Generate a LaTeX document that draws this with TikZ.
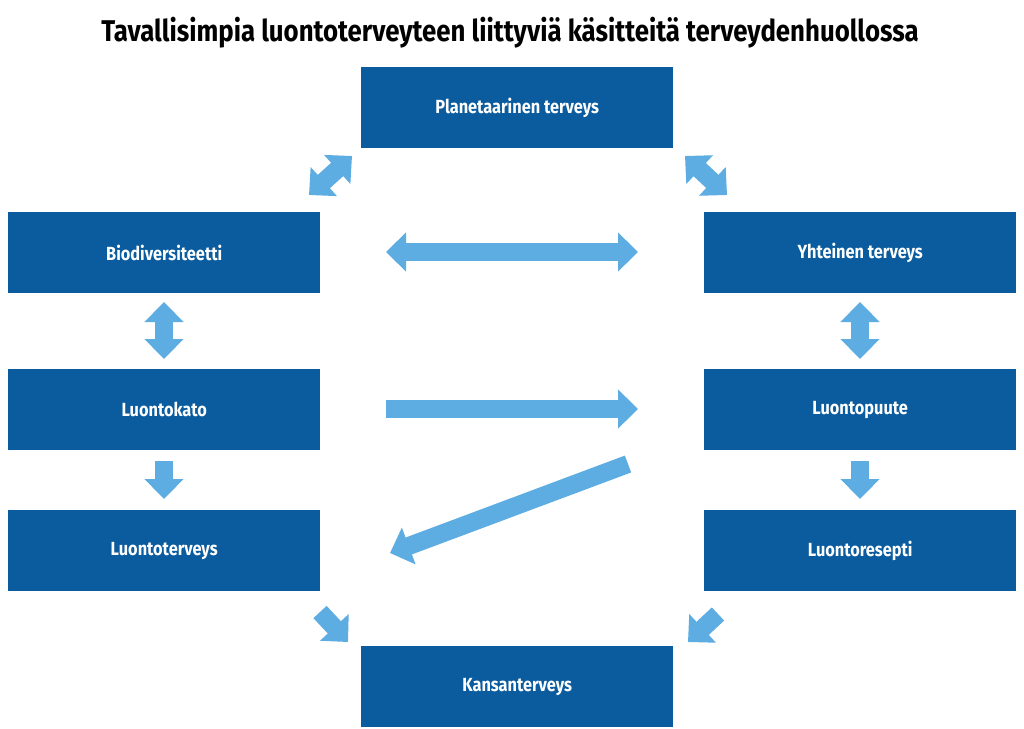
\documentclass[tikz,border=0pt]{standalone}
\usepackage{fontspec}
\setmainfont{Fira Sans}[FakeStretch=0.86]
\usetikzlibrary{arrows.meta}
\definecolor{boxc}{HTML}{0B5C9E}
\definecolor{arrc}{HTML}{5DADE2}
\tikzset{
  box/.style={fill=boxc,draw=none,text=white,font=\bfseries\fontsize{19}{22}\selectfont,minimum width=312pt,minimum height=81pt,inner sep=0pt,anchor=north west},
  barr/.style={draw=arrc,line width=18pt,-{Triangle[width=38pt,length=20pt]}},
  darr/.style={draw=arrc,line width=18pt,{Triangle[width=38pt,length=20pt]}-{Triangle[width=38pt,length=20pt]}},
}
\begin{document}
\begin{tikzpicture}[x=1pt,y=-1pt]
\useasboundingbox[fill=white] (0,0) rectangle (1024,728);
\node[anchor=center,font=\bfseries\fontsize{30}{34}\selectfont] (title) at (510,33) {Tavallisimpia luontoterveyteen liittyviä käsitteitä terveydenhuollossa};
\node[box] (pl) at (361,67) {Planetaarinen terveys};
\node[box] (bio) at (8,212) {Biodiversiteetti};
\node[box] (yht) at (704,212) {Yhteinen terveys};
\node[box] (lk) at (8,369) {Luontokato};
\node[box] (lp) at (704,369) {Luontopuute};
\node[box] (lt) at (8,510) {Luontoterveys};
\node[box] (lr) at (704,510) {Luontoresepti};
\node[box] (ka) at (361,646) {Kansanterveys};
\coordinate (a1) at (309,195); \coordinate (a2) at (352,156);
\coordinate (b1) at (685,156); \coordinate (b2) at (727,195);
\coordinate (c1) at (386,252); \coordinate (c2) at (638,252);
\coordinate (d1) at (164,302); \coordinate (d2) at (164,359);
\coordinate (e1) at (860,302); \coordinate (e2) at (860,359);
\coordinate (f1) at (386,409); \coordinate (f2) at (638,409);
\coordinate (g1) at (164,461); \coordinate (g2) at (164,499);
\coordinate (h1) at (860,461); \coordinate (h2) at (860,499);
\coordinate (i1) at (628,464); \coordinate (i2) at (390,553);
\coordinate (j1) at (320,612); \coordinate (j2) at (348,642);
\coordinate (k1) at (718,614); \coordinate (k2) at (688,642);
\draw[darr] (a1) -- (a2);
\draw[darr] (b1) -- (b2);
\draw[darr] (c1) -- (c2);
\draw[darr] (d1) -- (d2);
\draw[darr] (e1) -- (e2);
\draw[barr] (f1) -- (f2);
\draw[barr] (g1) -- (g2);
\draw[barr] (h1) -- (h2);
\draw[barr] (i1) -- (i2);
\draw[barr] (j1) -- (j2);
\draw[barr] (k1) -- (k2);
\end{tikzpicture}
\end{document}
